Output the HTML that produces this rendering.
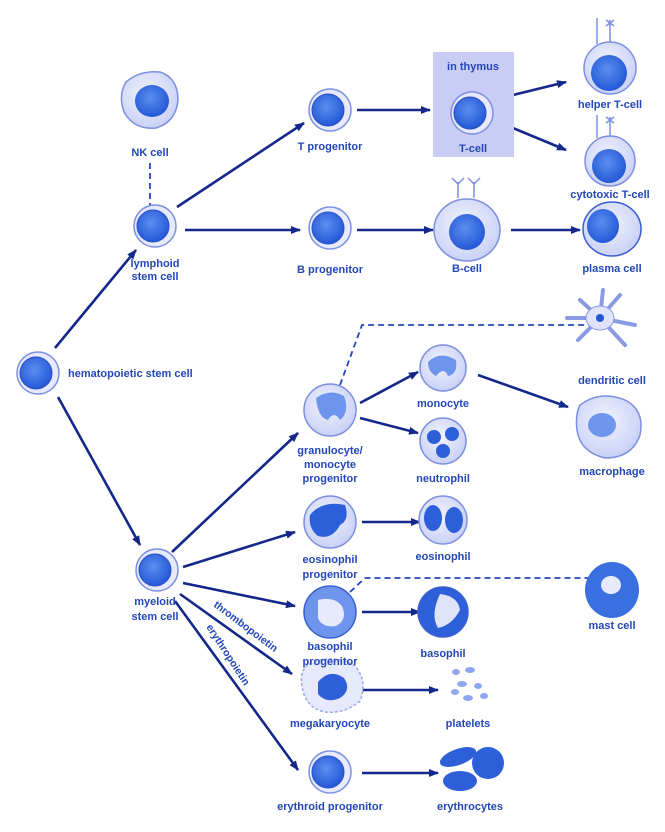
<!DOCTYPE html>
<html><head><meta charset="utf-8"><style>
html,body{margin:0;padding:0;background:#fff;}
svg{display:block;}
text{font-family:"Liberation Sans",sans-serif;font-size:11px;fill:#2347b8;font-weight:bold;}
</style></head><body>
<svg width="665" height="832" viewBox="0 0 665 832" xmlns="http://www.w3.org/2000/svg">
<defs>
<marker id="ah" markerWidth="10" markerHeight="8" refX="9" refY="4" orient="auto" markerUnits="userSpaceOnUse"><path d="M0,0 L10,4 L0,8 z" fill="#13288a"/></marker>
<radialGradient id="nuc" cx="45%" cy="40%" r="60%"><stop offset="0" stop-color="#5b8ef0"/><stop offset="1" stop-color="#2458d6"/></radialGradient>
<radialGradient id="cyt" cx="45%" cy="40%" r="60%"><stop offset="0" stop-color="#f2f4fe"/><stop offset="1" stop-color="#c9d1f6"/></radialGradient>
<g id="stem"><circle r="21" fill="#e6eafc" stroke="#7d8fe0" stroke-width="1.5"/><circle r="16" cx="-2" fill="url(#nuc)" stroke="#2a4fc0" stroke-width="1"/></g>
<g id="gran"><circle r="26" fill="url(#cyt)" stroke="#7d8fe0" stroke-width="1.5"/></g>
</defs>

<g stroke="#13288a" stroke-width="2.6" fill="none" marker-end="url(#ah)">
<line x1="55" y1="348" x2="136" y2="250"/>
<line x1="58" y1="397" x2="140" y2="545"/>
<line x1="177" y1="207" x2="304" y2="123"/>
<line x1="185" y1="230" x2="300" y2="230"/>
<line x1="357" y1="110" x2="430" y2="110"/>
<line x1="357" y1="230" x2="433" y2="230"/>
<line x1="513" y1="95" x2="566" y2="82"/>
<line x1="513" y1="128" x2="566" y2="150"/>
<line x1="511" y1="230" x2="580" y2="230"/>
<line x1="172" y1="552" x2="298" y2="433"/>
<line x1="183" y1="567" x2="295" y2="532"/>
<line x1="183" y1="583" x2="295" y2="606"/>
<line x1="180" y1="594" x2="292" y2="674"/>
<line x1="175" y1="601" x2="298" y2="770"/>
<line x1="360" y1="403" x2="418" y2="372"/>
<line x1="360" y1="418" x2="418" y2="433"/>
<line x1="478" y1="375" x2="568" y2="407"/>
<line x1="362" y1="522" x2="420" y2="522"/>
<line x1="362" y1="612" x2="420" y2="612"/>
<line x1="362" y1="690" x2="438" y2="690"/>
<line x1="362" y1="773" x2="438" y2="773"/>
</g>
<g stroke="#2347b8" stroke-width="1.8" fill="none" stroke-dasharray="6,4">
<line x1="150" y1="163" x2="150" y2="207"/>
<polyline points="340,385 362,325 597,325 597,312"/>
<polyline points="350,592 365,578 590,578"/>
</g>

<rect x="433" y="52" width="81" height="105" fill="#c9cdf6"/>
<text x="473" y="70" text-anchor="middle">in thymus</text>

<use href="#stem" x="38" y="373"/>
<use href="#stem" x="155" y="226"/>
<use href="#stem" x="330" y="110"/>
<use href="#stem" x="330" y="228"/>
<use href="#stem" x="472" y="113"/>
<use href="#stem" x="157" y="570"/>
<use href="#stem" x="330" y="772"/>

<path d="M126,82 Q140,70 160,72 Q178,78 178,100 Q176,122 156,128 Q134,130 124,112 Q118,95 126,82z" fill="url(#cyt)" stroke="#7d8fe0" stroke-width="1.5"/>
<ellipse cx="152" cy="101" rx="17" ry="16" fill="url(#nuc)"/>

<g stroke="#7d8fe0" stroke-width="1.5" fill="none"><path d="M597,18 L597,44 M610,20 L610,44 M606,20 L614,26 M614,20 L606,26"/><path d="M597,115 L597,138 M610,117 L610,138 M606,117 L614,123 M614,117 L606,123"/></g>
<circle cx="610" cy="68" r="26" fill="url(#cyt)" stroke="#7d8fe0" stroke-width="1.5"/>
<circle cx="609" cy="73" r="18" fill="url(#nuc)"/>
<circle cx="610" cy="161" r="25" fill="url(#cyt)" stroke="#7d8fe0" stroke-width="1.5"/>
<circle cx="609" cy="166" r="17" fill="url(#nuc)"/>

<g stroke="#7d8fe0" stroke-width="1.5" fill="none"><path d="M458,198 L458,182 M452,178 L458,184 L464,178 M474,198 L474,182 M468,178 L474,184 L480,178"/></g>
<ellipse cx="467" cy="230" rx="33" ry="31" fill="url(#cyt)" stroke="#7d8fe0" stroke-width="1.5"/>
<ellipse cx="467" cy="232" rx="18" ry="18" fill="url(#nuc)"/>
<ellipse cx="612" cy="229" rx="29" ry="27" fill="url(#cyt)" stroke="#3d5fd0" stroke-width="1.5"/>
<ellipse cx="603" cy="226" rx="16" ry="17" fill="url(#nuc)"/>

<use href="#gran" x="330" y="410"/>
<path d="M316,398 Q330,388 344,396 Q350,412 340,420 Q334,410 328,420 Q318,418 316,398z" fill="#6e95ec"/>
<g stroke="#8a9ae2" stroke-width="4" stroke-linecap="round"><path d="M600,318 L580,300 M600,318 L620,295 M600,318 L635,325 M600,318 L625,345 M600,318 L578,340 M600,318 L567,318 M600,318 L603,290"/></g>
<ellipse cx="600" cy="318" rx="14" ry="12" fill="#dfe4fb" stroke="#8a9ae2"/>
<circle cx="600" cy="318" r="4" fill="#2458d6"/>
<circle cx="443" cy="368" r="23" fill="url(#cyt)" stroke="#7d8fe0" stroke-width="1.5"/>
<path d="M428,362 Q440,350 456,360 Q458,374 448,376 Q444,366 436,376 Q428,372 428,362z" fill="#6e95ec"/>
<circle cx="443" cy="441" r="23" fill="url(#cyt)" stroke="#7d8fe0" stroke-width="1.5"/>
<g fill="#2d5fd8"><circle cx="434" cy="437" r="7"/><circle cx="452" cy="434" r="7"/><circle cx="443" cy="451" r="7"/></g>
<path d="M580,405 Q600,390 625,400 Q645,410 640,435 Q632,458 605,458 Q580,452 577,430 Q575,415 580,405z" fill="url(#cyt)" stroke="#7d8fe0" stroke-width="1.5"/>
<ellipse cx="602" cy="425" rx="14" ry="12" fill="#6e95ec"/>
<use href="#gran" x="330" y="522"/>
<path d="M310,515 Q322,500 345,505 Q350,520 340,525 Q332,540 318,536 Q308,528 310,515z" fill="#2d5fd8"/>
<circle cx="443" cy="520" r="24" fill="url(#cyt)" stroke="#7d8fe0" stroke-width="1.5"/>
<g fill="#2d5fd8"><ellipse cx="433" cy="518" rx="9" ry="13"/><ellipse cx="454" cy="520" rx="9" ry="13"/></g>
<circle cx="330" cy="612" r="26" fill="#6e95ec" stroke="#3d5fd0" stroke-width="1.5"/>
<path d="M318,600 Q334,596 342,606 Q348,620 336,626 Q322,628 318,618z" fill="#e6eafc"/>
<circle cx="443" cy="612" r="25" fill="#2d5fd8" stroke="#3d5fd0" stroke-width="1.5"/>
<path d="M440,594 Q458,596 460,610 Q452,625 438,628 Q430,615 440,594z" fill="#dfe4fb"/>
<ellipse cx="612" cy="590" rx="27" ry="28" fill="#3a6fe0"/>
<ellipse cx="611" cy="585" rx="10" ry="9" fill="#e6eafc"/>
<path d="M302,686 Q298,664 320,660 Q340,656 355,666 Q368,681 360,701 Q345,714 325,712 Q305,708 302,686z" fill="#e6eafc" stroke="#9aa8e8" stroke-width="1.5" stroke-dasharray="3,2"/>
<path d="M318,682 Q330,668 344,678 Q352,690 340,698 Q326,704 318,694z" fill="#2d5fd8"/>
<g fill="#8fa6ee"><ellipse cx="456" cy="672" rx="4" ry="3"/><ellipse cx="470" cy="670" rx="5" ry="3"/><ellipse cx="462" cy="684" rx="5" ry="3"/><ellipse cx="478" cy="686" rx="4" ry="3"/><ellipse cx="468" cy="698" rx="5" ry="3"/><ellipse cx="484" cy="696" rx="4" ry="3"/><ellipse cx="455" cy="692" rx="4" ry="3"/></g>
<g fill="#2d5fd8"><ellipse cx="458" cy="757" rx="19" ry="8" transform="rotate(-20 458 757)"/><ellipse cx="460" cy="781" rx="17" ry="10"/><circle cx="488" cy="763" r="16"/></g>

<text x="68" y="377">hematopoietic stem cell</text>
<text x="150" y="156" text-anchor="middle">NK cell</text>
<text x="155" y="267" text-anchor="middle">lymphoid</text>
<text x="155" y="280" text-anchor="middle">stem cell</text>
<text x="330" y="150" text-anchor="middle">T progenitor</text>
<text x="330" y="273" text-anchor="middle">B progenitor</text>
<text x="473" y="152" text-anchor="middle">T-cell</text>
<text x="610" y="108" text-anchor="middle">helper T-cell</text>
<text x="610" y="198" text-anchor="middle">cytotoxic T-cell</text>
<text x="467" y="272" text-anchor="middle">B-cell</text>
<text x="612" y="272" text-anchor="middle">plasma cell</text>
<text x="330" y="454" text-anchor="middle">granulocyte/</text>
<text x="330" y="468" text-anchor="middle">monocyte</text>
<text x="330" y="482" text-anchor="middle">progenitor</text>
<text x="443" y="407" text-anchor="middle">monocyte</text>
<text x="443" y="482" text-anchor="middle">neutrophil</text>
<text x="612" y="384" text-anchor="middle">dendritic cell</text>
<text x="612" y="475" text-anchor="middle">macrophage</text>
<text x="330" y="563" text-anchor="middle">eosinophil</text>
<text x="330" y="578" text-anchor="middle">progenitor</text>
<text x="443" y="560" text-anchor="middle">eosinophil</text>
<text x="155" y="605" text-anchor="middle">myeloid</text>
<text x="155" y="620" text-anchor="middle">stem cell</text>
<text x="330" y="650" text-anchor="middle">basophil</text>
<text x="330" y="665" text-anchor="middle">progenitor</text>
<text x="443" y="657" text-anchor="middle">basophil</text>
<text x="612" y="629" text-anchor="middle">mast cell</text>
<text x="330" y="727" text-anchor="middle">megakaryocyte</text>
<text x="468" y="727" text-anchor="middle">platelets</text>
<text x="330" y="810" text-anchor="middle">erythroid progenitor</text>
<text x="470" y="810" text-anchor="middle">erythrocytes</text>
<text x="213" y="606" transform="rotate(37 213 606)" style="font-size:10.5px">thrombopoietin</text>
<text x="206" y="627" transform="rotate(57 206 627)" style="font-size:10.5px">erythropoietin</text>
</svg>
</body></html>
